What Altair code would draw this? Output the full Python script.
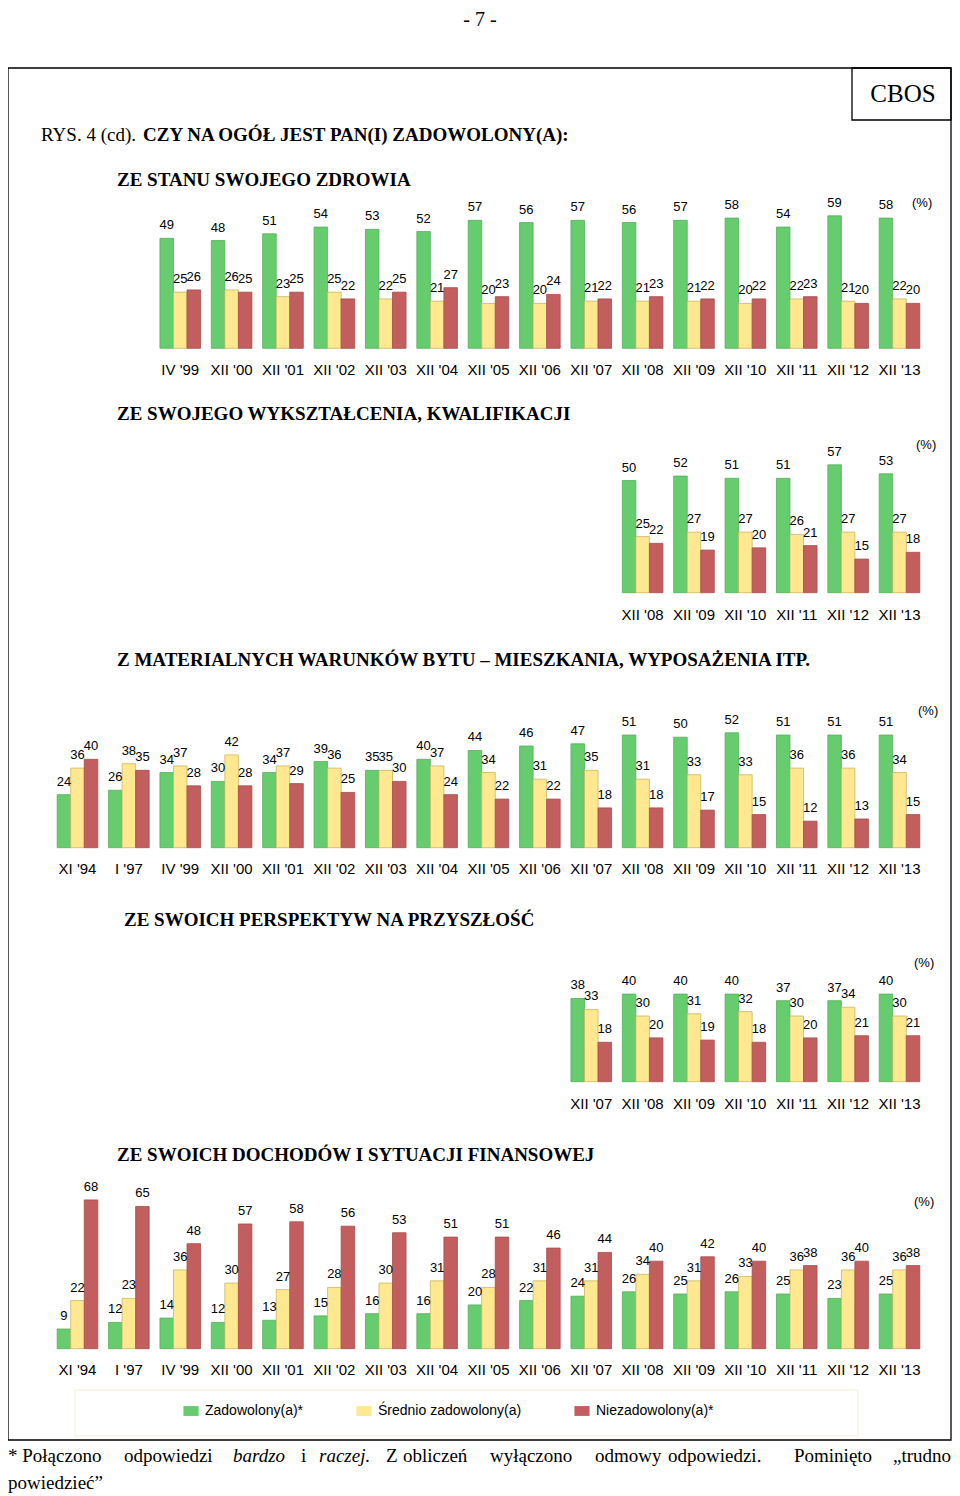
import altair as alt
import pandas as pd

# ---------------- data ----------------
CATS = ["XI '94", "I '97", "IV '99", "XII '00", "XII '01", "XII '02", "XII '03",
        "XII '04", "XII '05", "XII '06", "XII '07", "XII '08", "XII '09",
        "XII '10", "XII '11", "XII '12", "XII '13"]
SERIES = ["Zadowolony(a)*", "Średnio zadowolony(a)", "Niezadowolony(a)*"]

# ZE STANU SWOJEGO ZDROWIA
health_cats = CATS[2:]
health_zad = [49, 48, 51, 54, 53, 52, 57, 56, 57, 56, 57, 58, 54, 59, 58]
health_sred = [25, 26, 23, 25, 22, 21, 20, 20, 21, 21, 21, 20, 22, 21, 22]
health_nie = [26, 25, 25, 22, 25, 27, 23, 24, 22, 23, 22, 22, 23, 20, 20]

# ZE SWOJEGO WYKSZTAŁCENIA, KWALIFIKACJI
edu_cats = CATS[11:]
edu_zad = [50, 52, 51, 51, 57, 53]
edu_sred = [25, 27, 27, 26, 27, 27]
edu_nie = [22, 19, 20, 21, 15, 18]

# Z MATERIALNYCH WARUNKÓW BYTU
home_cats = CATS
home_zad = [24, 26, 34, 30, 34, 39, 35, 40, 44, 46, 47, 51, 50, 52, 51, 51, 51]
home_sred = [36, 38, 37, 42, 37, 36, 35, 37, 34, 31, 35, 31, 33, 33, 36, 36, 34]
home_nie = [40, 35, 28, 28, 29, 25, 30, 24, 22, 22, 18, 18, 17, 15, 12, 13, 15]

# ZE SWOICH PERSPEKTYW NA PRZYSZŁOŚĆ
fut_cats = CATS[10:]
fut_zad = [38, 40, 40, 40, 37, 37, 40]
fut_sred = [33, 30, 31, 32, 30, 34, 30]
fut_nie = [18, 20, 19, 18, 20, 21, 21]

# ZE SWOICH DOCHODÓW I SYTUACJI FINANSOWEJ
inc_cats = CATS
inc_zad = [9, 12, 14, 12, 13, 15, 16, 16, 20, 22, 24, 26, 25, 26, 25, 23, 25]
inc_sred = [22, 23, 36, 30, 27, 28, 30, 31, 28, 31, 31, 34, 31, 33, 36, 36, 36]
inc_nie = [68, 65, 48, 57, 58, 56, 53, 51, 51, 46, 44, 40, 42, 40, 38, 40, 38]

TITLES = ["ZE STANU SWOJEGO ZDROWIA",
          "ZE SWOJEGO WYKSZTAŁCENIA, KWALIFIKACJI",
          "Z MATERIALNYCH WARUNKÓW BYTU – MIESZKANIA, WYPOSAŻENIA ITP.",
          "ZE SWOICH PERSPEKTYW NA PRZYSZŁOŚĆ",
          "ZE SWOICH DOCHODÓW I SYTUACJI FINANSOWEJ"]

# ---------------- style / layout ----------------
FILL = ["#66CC6E", "#FFE890", "#C25E5E"]
EDGE = ["#55B05C", "#CDB560", "#A84C4C"]
W, H = 944, 1486
SANS = "Liberation Sans"
SERIF = "Liberation Serif"

xscale = alt.Scale(domain=CATS, range=[43.8, 917.2], paddingInner=0.21, paddingOuter=0.105)
offscale = alt.Scale(domain=SERIES, paddingInner=0, paddingOuter=0)
legend = alt.Legend(orient="none", legendX=175, legendY=1395, direction="horizontal",
                    title=None, symbolType="M-1,-0.65L1,-0.65L1,0.65L-1,0.65Z",
                    symbolSize=230, symbolStrokeWidth=0, labelFont=SANS, labelFontSize=14,
                    labelColor="black", labelOffset=6, columnPadding=52, padding=0,
                    labelLimit=300)

# (data arrays, baseline px, px per unit, category-label y, title pos, (%) pos)
panels = [
    (health_cats, health_zad, health_sred, health_nie, 340.3, 2.245, 362, (109, 172), (904, 195)),
    (edu_cats, edu_zad, edu_sred, edu_nie, 584.7, 2.243, 607, (109, 406), (908, 437)),
    (home_cats, home_zad, home_sred, home_nie, 839.7, 2.21, 861, (109, 652), (910, 703)),
    (fut_cats, fut_zad, fut_sred, fut_nie, 1073.7, 2.19, 1096, (116, 912), (906, 955)),
    (inc_cats, inc_zad, inc_sred, inc_nie, 1340.7, 2.188, 1362, (109, 1147), (906, 1194)),
]

one = pd.DataFrame({"k": [0]})


def txt(x, y, s, **kw):
    return alt.Chart(one).mark_text(**kw).encode(
        x=alt.value(x), y=alt.value(y), text=alt.value(s))


layers = []

# outer frame, CBOS box, legend box
layers.append(alt.Chart(one).mark_rect(fillOpacity=0, stroke="black", strokeWidth=1.3).encode(
    x=alt.value(0), x2=alt.value(W - 1), y=alt.value(60), y2=alt.value(1432)))
layers.append(alt.Chart(one).mark_rect(fillOpacity=0, stroke="black", strokeWidth=1.3).encode(
    x=alt.value(844), x2=alt.value(W - 1), y=alt.value(60), y2=alt.value(112)))
layers.append(alt.Chart(one).mark_rect(fillOpacity=0, stroke="#F3EFD2", strokeWidth=1).encode(
    x=alt.value(67), x2=alt.value(850), y=alt.value(1382), y2=alt.value(1428)))

layers.append(txt(472, 2, "- 7 -", font=SERIF, fontSize=20, baseline="top", align="center"))
layers.append(txt(895, 86, "CBOS", font=SERIF, fontSize=25, baseline="middle", align="center"))
layers.append(txt(33, 127, "RYS. 4 (cd).", font=SERIF, fontSize=19, baseline="middle", align="left"))
layers.append(txt(135, 127, "CZY NA OGÓŁ JEST PAN(I) ZADOWOLONY(A):", font=SERIF, fontSize=19,
                  fontWeight="bold", baseline="middle", align="left"))

for i, (cats, zad, sred, nie, base, ppu, ylab, tpos, ppos) in enumerate(panels):
    rows = []
    for vals, s in zip([zad, sred, nie], SERIES):
        for c, v in zip(cats, vals):
            rows.append({"cat": c, "series": s, "value": v})
    df = pd.DataFrame(rows)
    yscale = alt.Scale(domain=[0, 100], range=[base, base - 100 * ppu], nice=False)
    enc = dict(
        x=alt.X("cat:N", scale=xscale, axis=None, sort=CATS),
        xOffset=alt.XOffset("series:N", scale=offscale, sort=SERIES),
        y=alt.Y("value:Q", scale=yscale, axis=None),
    )
    bars = alt.Chart(df).mark_bar(strokeWidth=0.8).encode(
        color=alt.Color("series:N", scale=alt.Scale(domain=SERIES, range=FILL), legend=legend,
                        sort=SERIES),
        stroke=alt.Stroke("series:N", scale=alt.Scale(domain=SERIES, range=EDGE), legend=None),
        **enc)
    labels = alt.Chart(df).mark_text(font=SANS, fontSize=13, baseline="alphabetic", dy=-9,
                                     color="black").encode(text="value:Q", **enc)
    catlab = alt.Chart(pd.DataFrame({"cat": cats})).mark_text(
        font=SANS, fontSize=15, baseline="middle", color="black").encode(
        x=alt.X("cat:N", scale=xscale, axis=None, sort=CATS), y=alt.value(ylab), text="cat:N")
    layers += [bars, labels, catlab]
    layers.append(txt(tpos[0], tpos[1], TITLES[i], font=SERIF, fontSize=19, fontWeight="bold",
                      baseline="middle", align="left"))
    layers.append(txt(ppos[0], ppos[1], "(%)", font=SANS, fontSize=13, baseline="middle",
                      align="left"))

# footnote (justified line reproduced word by word)
FOOT1 = [("* Połączono", -4, "normal"), ("odpowiedzi", 116, "normal"), ("bardzo", 225, "italic"),
         ("i", 293, "normal"), ("raczej.", 311, "italic"), ("Z", 378, "normal"),
         ("obliczeń", 395, "normal"), ("wyłączono", 482, "normal"), ("odmowy", 587, "normal"),
         ("odpowiedzi.", 660, "normal"), ("Pominięto", 786, "normal"), ("„trudno", 885, "normal")]
for w, x, st in FOOT1:
    layers.append(txt(max(x, 0), 1448, w, font=SERIF, fontSize=19, fontStyle=st,
                      baseline="middle", align="left"))
layers.append(txt(0, 1475, "powiedzieć”", font=SERIF, fontSize=19, baseline="middle",
                  align="left"))

chart = alt.layer(*layers).resolve_scale(y="independent").properties(
    width=W, height=H, padding=0, autosize=alt.AutoSizeParams(type="none"),
    background="white"
).configure_view(stroke=None)

chart.save("out.html", embed_options={"renderer": "svg", "actions": False})
